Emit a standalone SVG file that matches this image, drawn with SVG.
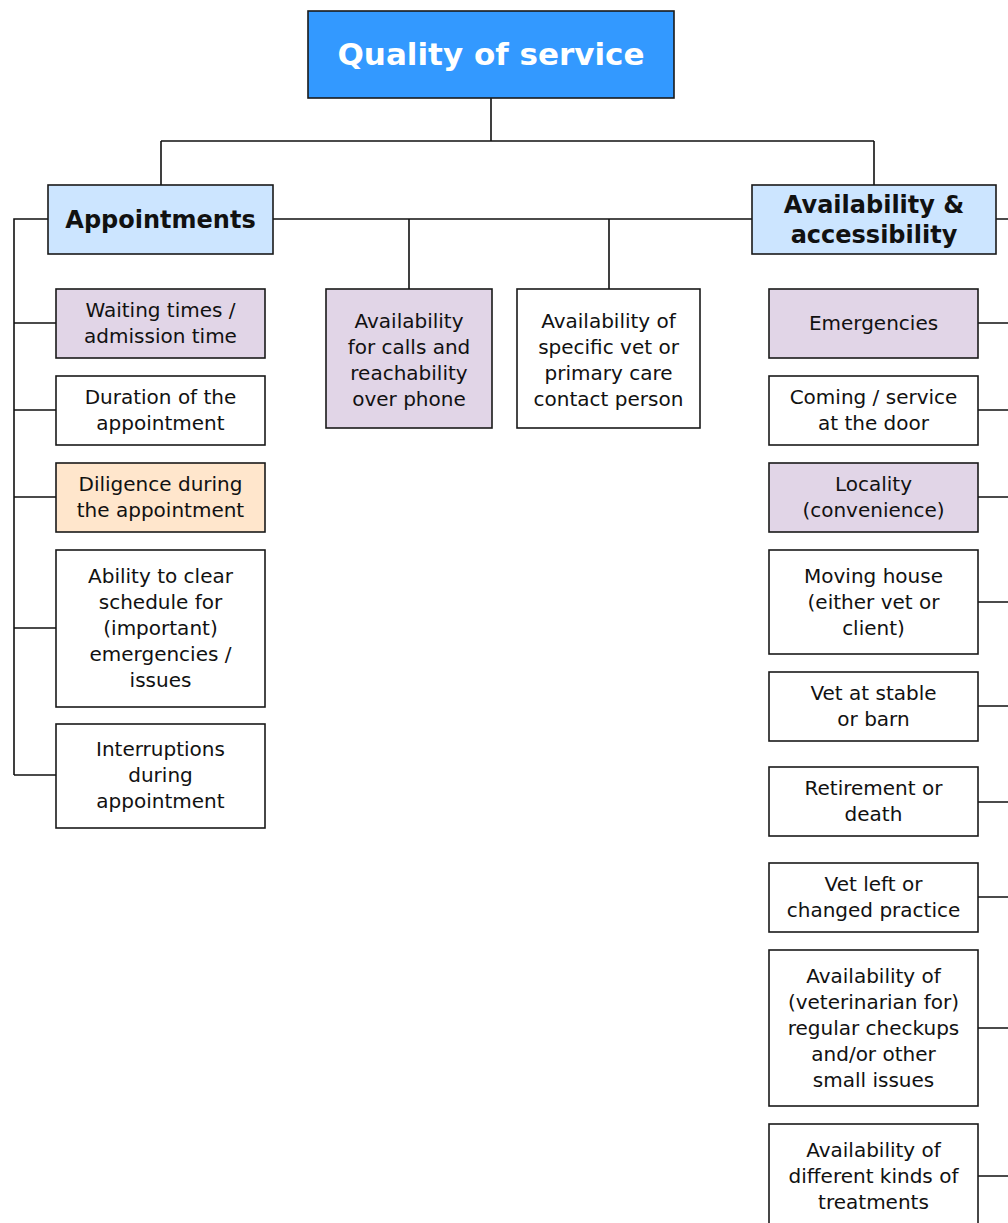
<svg xmlns="http://www.w3.org/2000/svg" width="1008" height="1223" viewBox="0 0 1008 1223">
  <style>
    .box { stroke: #1a1a1a; stroke-width: 1.6; }
    .plain { fill: #ffffff; }
    .lav { fill: #e1d5e7; }
    .peach { fill: #ffe6cc; }
    .cat { fill: #cce5ff; }
    .root { fill: #3399ff; }
    .wire { fill: none; stroke: #111111; stroke-width: 1.6; }
    text { font-family: "DejaVu Sans", Verdana, sans-serif; text-anchor: middle; fill: #111111; }
    .t { font-size: 20px; }
    .h { font-size: 24px; font-weight: bold; }
    .r { font-size: 31px; font-weight: bold; fill: #ffffff; }
  </style>

  <!-- connectors -->
  <g id="connectors">
    <path class="wire" d="M491,98 V141 M161,141 H874 M161,141 V185 M874,141 V185"/>
    <path class="wire" d="M273,219 H752 M409,219 V289 M609,219 V289"/>
    <path class="wire" d="M48,219 H14 V775 M14,323 H56 M14,410 H56 M14,497 H56 M14,628 H56 M14,775 H56"/>
    <path class="wire" d="M996,219 H1008 M978,323 H1008 M978,410 H1008 M978,497 H1008 M978,602 H1008 M978,706 H1008 M978,802 H1008 M978,897 H1008 M978,1028 H1008 M978,1176 H1008"/>
  </g>

  <!-- root -->
  <g id="quality-of-service">
    <rect class="box root" x="308" y="11" width="366" height="87"/>
    <text class="r" x="491" y="65">Quality of service</text>
  </g>

  <!-- categories -->
  <g id="appointments">
    <rect class="box cat" x="48" y="185" width="225" height="69"/>
    <text class="h" x="160.5" y="228">Appointments</text>
  </g>
  <g id="availability-accessibility">
    <rect class="box cat" x="752" y="185" width="244" height="69"/>
    <text class="h" x="874" y="213">Availability &amp;</text>
    <text class="h" x="874" y="243">accessibility</text>
  </g>

  <!-- appointment items -->
  <g id="waiting-times">
    <rect class="box lav" x="56" y="289" width="209" height="69"/>
    <text class="t" x="160.5" y="317">Waiting times /</text>
    <text class="t" x="160.5" y="343">admission time</text>
  </g>
  <g id="duration">
    <rect class="box plain" x="56" y="376" width="209" height="69"/>
    <text class="t" x="160.5" y="404">Duration of the</text>
    <text class="t" x="160.5" y="430">appointment</text>
  </g>
  <g id="diligence">
    <rect class="box peach" x="56" y="463" width="209" height="69"/>
    <text class="t" x="160.5" y="491">Diligence during</text>
    <text class="t" x="160.5" y="517">the appointment</text>
  </g>
  <g id="clear-schedule">
    <rect class="box plain" x="56" y="550" width="209" height="157"/>
    <text class="t" x="160.5" y="583">Ability to clear</text>
    <text class="t" x="160.5" y="609">schedule for</text>
    <text class="t" x="160.5" y="635">(important)</text>
    <text class="t" x="160.5" y="661">emergencies /</text>
    <text class="t" x="160.5" y="687">issues</text>
  </g>
  <g id="interruptions">
    <rect class="box plain" x="56" y="724" width="209" height="104"/>
    <text class="t" x="160.5" y="756">Interruptions</text>
    <text class="t" x="160.5" y="782">during</text>
    <text class="t" x="160.5" y="808">appointment</text>
  </g>

  <!-- middle items -->
  <g id="calls-phone">
    <rect class="box lav" x="326" y="289" width="166" height="139"/>
    <text class="t" x="409" y="328">Availability</text>
    <text class="t" x="409" y="354">for calls and</text>
    <text class="t" x="409" y="380">reachability</text>
    <text class="t" x="409" y="406">over phone</text>
  </g>
  <g id="specific-vet">
    <rect class="box plain" x="517" y="289" width="183" height="139"/>
    <text class="t" x="608.5" y="328">Availability of</text>
    <text class="t" x="608.5" y="354">specific vet or</text>
    <text class="t" x="608.5" y="380">primary care</text>
    <text class="t" x="608.5" y="406">contact person</text>
  </g>

  <!-- availability items -->
  <g id="emergencies">
    <rect class="box lav" x="769" y="289" width="209" height="69"/>
    <text class="t" x="873.5" y="330">Emergencies</text>
  </g>
  <g id="service-door">
    <rect class="box plain" x="769" y="376" width="209" height="69"/>
    <text class="t" x="873.5" y="404">Coming / service</text>
    <text class="t" x="873.5" y="430">at the door</text>
  </g>
  <g id="locality">
    <rect class="box lav" x="769" y="463" width="209" height="69"/>
    <text class="t" x="873.5" y="491">Locality</text>
    <text class="t" x="873.5" y="517">(convenience)</text>
  </g>
  <g id="moving-house">
    <rect class="box plain" x="769" y="550" width="209" height="104"/>
    <text class="t" x="873.5" y="583">Moving house</text>
    <text class="t" x="873.5" y="609">(either vet or</text>
    <text class="t" x="873.5" y="635">client)</text>
  </g>
  <g id="stable-barn">
    <rect class="box plain" x="769" y="672" width="209" height="69"/>
    <text class="t" x="873.5" y="700">Vet at stable</text>
    <text class="t" x="873.5" y="726">or barn</text>
  </g>
  <g id="retirement">
    <rect class="box plain" x="769" y="767" width="209" height="69"/>
    <text class="t" x="873.5" y="795">Retirement or</text>
    <text class="t" x="873.5" y="821">death</text>
  </g>
  <g id="vet-left">
    <rect class="box plain" x="769" y="863" width="209" height="69"/>
    <text class="t" x="873.5" y="891">Vet left or</text>
    <text class="t" x="873.5" y="917">changed practice</text>
  </g>
  <g id="regular-checkups">
    <rect class="box plain" x="769" y="950" width="209" height="156"/>
    <text class="t" x="873.5" y="983">Availability of</text>
    <text class="t" x="873.5" y="1009">(veterinarian for)</text>
    <text class="t" x="873.5" y="1035">regular checkups</text>
    <text class="t" x="873.5" y="1061">and/or other</text>
    <text class="t" x="873.5" y="1087">small issues</text>
  </g>
  <g id="treatments">
    <rect class="box plain" x="769" y="1124" width="209" height="104"/>
    <text class="t" x="873.5" y="1157">Availability of</text>
    <text class="t" x="873.5" y="1183">different kinds of</text>
    <text class="t" x="873.5" y="1209">treatments</text>
  </g>
</svg>
